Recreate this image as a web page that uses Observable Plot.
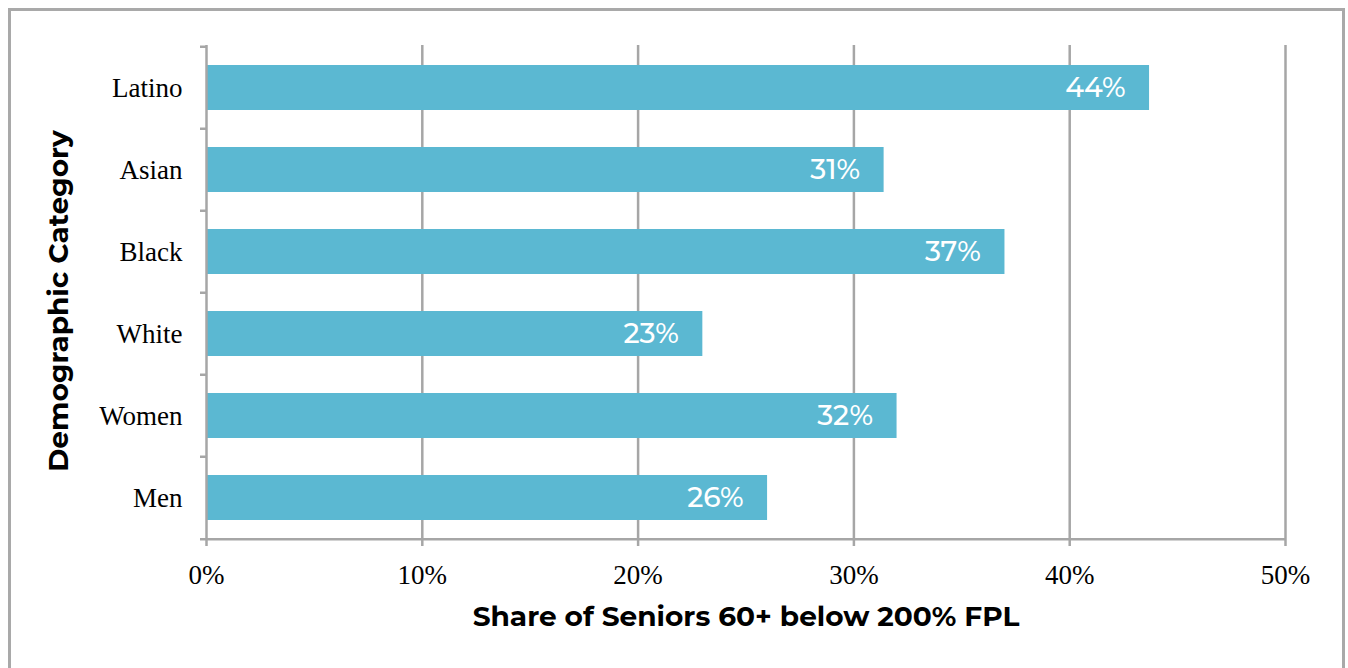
<!DOCTYPE html>
<html>
<head>
<meta charset="utf-8">
<script src="https://cdn.jsdelivr.net/npm/d3@7"></script>
<script src="https://cdn.jsdelivr.net/npm/@observablehq/plot@0.6"></script>
<style>
  html, body { margin: 0; padding: 0; background: #fff; overflow: hidden; }
  #frame { position: absolute; left: 8px; top: 8px; width: 1331px; height: 700px; border: 3px solid #a9a9a9; box-sizing: content-box; }
  #chart { position: absolute; left: 0; top: 0; }
</style>
</head>
<body>
<div id="frame"></div>
<div id="chart"></div>
<script>
const categories = ["Latino", "Asian", "Black", "White", "Women", "Men"];
const shares = [43.7, 31.4, 37.0, 23.0, 32.0, 26.0];
const xTicks = [0, 10, 20, 30, 40, 50];
const xTickLabels = ["0%", "10%", "20%", "30%", "40%", "50%"];
const xTitle = "Share of Seniors 60+ below 200% FPL";
const yTitle = "Demographic Category";

const data = categories.map((c, i) => ({category: c, share: shares[i]}));

const gray = "#a6a6a6";
const sans = "Montserrat, 'Open Sans', sans-serif";
const serif = "'Liberation Serif', 'Times New Roman', serif";
const H = 668, mTop = 45, mBottom = 128;
const halfStep = (H - mTop - mBottom) / categories.length / 2;

const chart = Plot.plot({
  width: 1348,
  height: H,
  marginLeft: 206,
  marginRight: 63,
  marginTop: mTop,
  marginBottom: mBottom,
  style: {background: "transparent", fontFamily: serif, fontSize: "27px", color: "#000"},
  x: {domain: [0, 50]},
  y: {domain: categories, paddingInner: 0.455, paddingOuter: 0.2275},
  marks: [
    Plot.ruleX(xTicks.slice(1), {stroke: gray, strokeWidth: 2.5}),
    Plot.barX(data, {x: "share", y: "category", fill: "#5BB8D2"}),
    Plot.ruleX([0], {stroke: gray, strokeWidth: 2.5}),
    Plot.ruleY(categories, {y: d => d, x1: 0, x2: 0, insetLeft: -6, dy: -halfStep, stroke: gray, strokeWidth: 2.5}),
    Plot.ruleY([categories[categories.length - 1]], {y: d => d, x1: 0, x2: 50, insetLeft: -6, dy: halfStep, stroke: gray, strokeWidth: 2.5}),
    Plot.axisX({ticks: xTicks, tickFormat: d => xTickLabels[xTicks.indexOf(d)], tickSize: 6, tickPadding: 18, stroke: gray, strokeWidth: 2.5, label: null, fontSize: 27}),
    Plot.axisY({tickSize: 0, tickPadding: 24, label: null, fontSize: 27}),
    Plot.text(data, {x: "share", y: "category", text: d => Math.round(d.share) + "%", textAnchor: "end", dx: -24, fill: "white", fontSize: 28, fontWeight: 500, fontFamily: sans}),
    Plot.text([yTitle], {frameAnchor: "left", textAnchor: "middle", lineAnchor: "middle", rotate: -90, dx: -147, dy: 8, fontWeight: "bold", fontSize: 28, fontFamily: sans, fill: "#000"}),
    Plot.text([xTitle], {frameAnchor: "bottom", textAnchor: "middle", lineAnchor: "middle", dy: 77, fontWeight: "bold", fontSize: 28, fontFamily: sans, fill: "#000"})
  ]
});
document.getElementById("chart").appendChild(chart);
</script>
</body>
</html>
